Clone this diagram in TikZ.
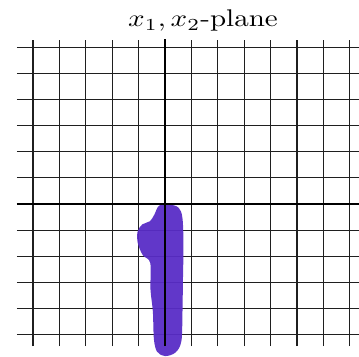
\documentclass[tikz,border=0pt]{standalone}
\usepackage{amsmath}
\usepackage{graphicx}
\usepackage{xcolor}
\usepackage{tikz}
\definecolor{inkpurple}{RGB}{88,44,198}

\begin{document}
\begin{tikzpicture}[x=1cm, y=0.99cm,
			gridline/.style={line width=1.3pt, black!88},
			axisline/.style={line width=3.1pt, black},
			ink/.style={fill=inkpurple, fill opacity=0.95, draw=none}]
			\useasboundingbox (-6.25cm,-5.758cm) rectangle (7.348cm,7.727cm);
			% grid
			\foreach \y in {-5,...,6}
				\draw[gridline] (-5.61,\y) -- (7.4,\y);
			\foreach \x in {-5,...,7}
				\draw[gridline] (\x,-5.44) -- (\x,6.28);
			% purple marker stroke along the negative x2-axis
			\fill[ink] plot[smooth cycle, tension=0.55] coordinates {
				(-0.22,-0.06) (0.19,-0.02) (0.52,-0.15) (0.66,-0.53) (0.70,-1.56)
				(0.68,-2.89) (0.66,-4.22) (0.62,-5.25) (0.40,-5.68) (0,-5.82)
				(-0.30,-5.65) (-0.42,-5.17) (-0.46,-4.11) (-0.55,-3.27) (-0.56,-2.25)
				(-0.84,-1.96) (-1.03,-1.50) (-1.04,-1.06) (-0.86,-0.78) (-0.57,-0.66)
				(-0.40,-0.40)};
			% axes
			\draw[axisline] (-5.61,0) -- (7.4,0);
			\draw[axisline] (0,-5.44) -- (0,6.3);
			\node[anchor=base west, inner sep=0pt] (title) at (-1.40,6.78)
				{\scalebox{3.13}[2.6]{$x_1, x_2$-plane}};
		\end{tikzpicture}
\end{document}
